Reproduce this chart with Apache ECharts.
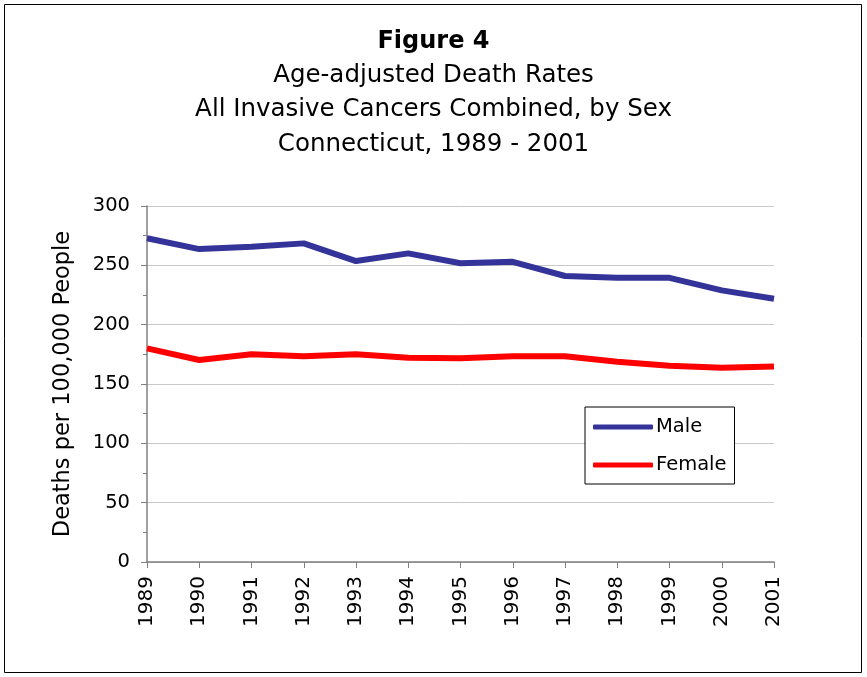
<!DOCTYPE html>
<html>
<head>
<meta charset="utf-8">
<script src="https://cdn.jsdelivr.net/npm/echarts@6/dist/echarts.min.js"></script>
<style>
  html, body { margin: 0; padding: 0; background: #fff; }
  #chart { width: 867px; height: 677px; }
</style>
</head>
<body>
<div id="chart"></div>
<script>
// Years along the x axis
var years = ['1989', '1990', '1991', '1992', '1993', '1994', '1995',
             '1996', '1997', '1998', '1999', '2000', '2001'];

// Age-adjusted death rates per 100,000
var male = [272.8, 263.7, 265.7, 268.5, 253.6, 260.1, 251.7,
            253.0, 241.0, 239.5, 239.5, 228.9, 221.8];
var female = [180.0, 170.2, 175.0, 173.3, 175.0, 172.1, 171.8,
              173.3, 173.3, 168.7, 165.3, 163.7, 164.8];

var titleLines = ['Age-adjusted Death Rates',
                  'All Invasive Cancers Combined, by Sex',
                  'Connecticut, 1989 - 2001'];

var chart = echarts.init(document.getElementById('chart'));
var font = 'DejaVu Sans, Verdana, sans-serif';

var option = {
    backgroundColor: '#fff',
    animation: false,
    title: {
        text: 'Figure 4',
        subtext: titleLines.join('\n'),
        left: 'center',
        top: 25,
        itemGap: 4,
        textStyle: { fontFamily: font, fontSize: 24, fontWeight: 'bold', color: '#000' },
        subtextStyle: { fontFamily: font, fontSize: 24.5, color: '#000', lineHeight: 34.5 }
    },
    graphic: [{
        type: 'rect',
        shape: { x: 4.5, y: 4.5, width: 857, height: 668 },
        style: { fill: 'none', stroke: '#000', lineWidth: 1 },
        silent: true
    }],
    legend: {
        data: ['Male', 'Female'],
        orient: 'vertical',
        left: 585,
        top: 407,
        padding: [10, 8, 9, 8],
        itemGap: 18,
        itemWidth: 60,
        itemHeight: 5,
        icon: 'roundRect',
        borderColor: '#000',
        borderWidth: 1,
        backgroundColor: '#fff',
        textStyle: { fontFamily: font, fontSize: 19.5, color: '#000', padding: [0, 0, 0, -2] }
    },
    grid: {
        left: 147,
        right: 93,
        top: 206,
        bottom: 115,
        containLabel: false
    },
    xAxis: {
        type: 'category',
        data: years,
        boundaryGap: false,
        axisLine: { lineStyle: { color: '#808080', width: 1.5 } },
        axisTick: { alignWithLabel: true, length: 6, lineStyle: { color: '#808080' } },
        axisLabel: {
            rotate: 90,
            margin: 14,
            fontFamily: font,
            fontSize: 20,
            color: '#000'
        }
    },
    yAxis: {
        type: 'value',
        min: 0,
        max: 300,
        interval: 50,
        name: 'Deaths per 100,000 People',
        nameLocation: 'middle',
        nameGap: 72,
        nameTextStyle: { fontFamily: font, fontSize: 22.5, color: '#000' },
        axisLine: { show: true, lineStyle: { color: '#808080', width: 1.5 } },
        axisTick: { show: true, length: 6, lineStyle: { color: '#808080' } },
        minorTick: { show: true, splitNumber: 2, length: 4, lineStyle: { color: '#808080' } },
        splitLine: { show: true, lineStyle: { color: '#c8c8c8', width: 1 } },
        axisLabel: { margin: 17, fontFamily: font, fontSize: 19.5, color: '#000' }
    },
    series: [
        {
            name: 'Male',
            type: 'line',
            data: male,
            symbol: 'none',
            color: '#333399',
            lineStyle: { color: '#333399', width: 6 }
        },
        {
            name: 'Female',
            type: 'line',
            data: female,
            symbol: 'none',
            color: '#ff0000',
            lineStyle: { color: '#ff0000', width: 6 }
        }
    ]
};

chart.setOption(option);
</script>
</body>
</html>
